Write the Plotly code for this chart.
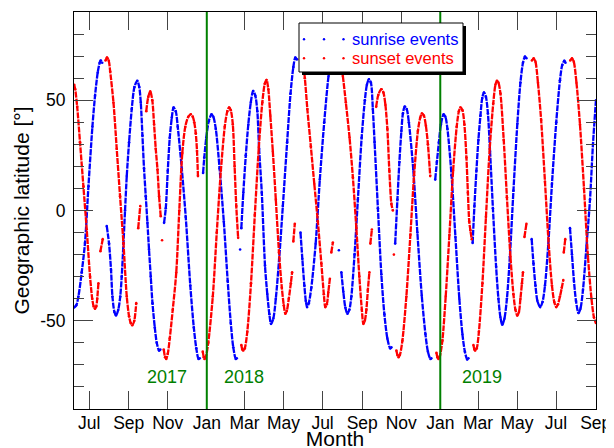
import pandas as pd
import plotly.graph_objects as go

# Time in days since 2017-06-01; None separates data gaps
EPOCH = "2017-06-01"

sunrise_day = [
    6.4, 9.9, 13.3, 18.5, 23.6, 29.0, 35.2, 39.3, 43.5, 46.6, 48.2, 50.5, None,
    57.6, 61.2, 64.3, 66.5, 69.6, 72.1, 75.6, 78.7, 81.0, 83.7, 86.2, 88.9, 92.5, 96.7, 100.9, 105.3,
    108.4, 110.8, 113.4, 115.9, 118.6, 121.2, 123.7, 126.4, 129.1, 132.7, 135.8, 139.4, 141.3, None,
    147.2, 149.9, 153.0, 156.1, 159.3, 162.1, 165.5, 168.6, 174.9, 181.1, 188.2, 193.7, 197.6, 201.2, 203.0, None,
    208.2, 210.1, 213.2, 217.1, 221.3, 224.2, 228.1, 234.0, 240.6, 246.7, 251.5, 255.4, 259.4, 260.9, None,
    266.1, None,
    268.0, 271.1, 275.0, 278.9, 282.8, 286.4, 289.9, 293.0, 295.8, 300.0, 305.0, 308.6, 311.8, 314.4,
    318.0, 321.9, 327.1, 332.9, 339.6, 344.9, 349.3, 352.4, 354.8, None,
    360.5, 363.4, 366.5, 368.8, 370.7, 373.5, 377.4, 384.2, 390.7, 397.6, 404.4, 407.9, 411.1, 413.4, None,
    420.5, None,
    424.4, 427.5, 430.6, 433.8, 436.9, 440.0, 445.0, 450.2, 456.1, 461.1, 464.3, 467.4, 470.5, 473.6,
    476.3, 481.5, 486.9, 491.6, 496.3, 500.7, 502.6, None,
    508.5, 512.0, 515.1, 518.2, 520.6, 523.4, 526.5, 529.9, 536.8, 543.2, 550.1, 555.8, 559.7, 563.6, 565.1, None,
    571.1, 573.7, 576.9, 580.0, 584.2, 587.0, 590.2, 596.6, 602.7, 608.8, 613.6, 617.5, 621.1, 623.0, None,
    629.6, 632.4, 635.5, 638.6, 641.8, 644.6, 647.3, 650.4, 653.5, 656.8, 661.3, 666.3, 669.9, 673.1,
    675.9, 679.3, 683.2, 687.8, 693.4, 699.5, 704.3, 708.3, 711.4, 713.7, None,
    721.9, 724.7, 727.8, 730.9, 735.2, 738.8, 742.7, 747.7, 753.6, 760.3, 766.1, 769.7, 772.9, 774.7, None,
    781.8, 784.9, 788.0, 791.2, 795.1, 798.2, 802.1, 807.6, 813.1, 817.7, 822.4,
]
sunrise_lat = [
    -44, -43, -39, -28, -14.7, 11, 38, 52, 62.6, 67, 68, 67, None,
    -7, -15, -27, -39, -46, -47.6, -45, -39, -30, -15, 0, 15.6, 31, 46, 56, 58.8,
    56, 49, 34, 19, 6.5, -5.6, -17.7, -30, -42, -53, -60, -63.5, -63, None,
    -5.6, 1, 18, 33, 42, 46.7, 45, 38, 19, -3, -34, -53, -62.5, -67.3, -67, None,
    17, 24, 33, 40.5, 43.6, 42.5, 37, 19, -5, -32, -51, -62, -67.3, -67, None,
    -17.7, None,
    -8, 8, 25, 39, 49, 54.2, 52, 45, 28, 8, -25, -38, -47, -51.4,
    -49, -40, -22, 2, 31, 53, 65, 69.4, 68.5, None,
    -10, -22, -34, -41, -43.8, -42, -35, -15, 14, 40, 61, 66.5, 68, 67.5, None,
    -18, None,
    -28, -37, -44, -46.8, -45, -39, -20, 5, 33, 50, 57, 59.5, 58, 46,
    31, 1, -29, -47, -58, -62.5, -62, None,
    -15, 5, 22, 36, 44, 47.1, 46, 40, 18.5, -10, -38.7, -56, -64, -67.3, -67, None,
    14, 22, 31, 39, 43.6, 42.5, 37, 16, -12, -40, -56, -64, -67.5, -67, None,
    -14.7, 2, 18, 32, 43, 51, 53.5, 51.5, 44, 27, 1, -25.5, -40, -48.5,
    -51.8, -49, -40, -21, 9, 39.4, 58, 67, 69.8, 69, None,
    -13, -24, -34, -41, -43.8, -41.5, -34, -16, 12, 40, 59, 66, 67.9, 67, None,
    -8, -20, -32, -41, -46.5, -44.5, -36, -16, 5, 30, 50,
]

sunset_day = [
    6.7, 8.3, 11.4, 15.8, 21.1, 26.3, 31.5, 34.9, 37.2, 39.3, 41.2, 42.7, 44.6, None,
    47.7, 51.3, None,
    55.7, 58.0, 60.7, 63.0, 68.1, 73.2, 78.4, 83.7, 88.9, 92.5, 95.1, 97.5, 100.6, 103.7, None,
    106.8, 110.0, None,
    119.4, 122.5, 125.6, 128.8, 131.6, 134.2, 136.9, 139.4, 142.0, None,
    144.1, None,
    146.7, 148.8, 150.6, 153.0, 156.1, 160.8, 166.3, 171.0, 175.7, 180.4, 185.1, 189.0, 192.1, 194.4,
    196.8, 198.7, 200.2, None,
    207.7, 209.3, 210.5, 212.4, 216.3, 223.4, 229.6, 236.0, 242.1, 246.1, 248.9, 251.5, 254.7, 257.5,
    260.1, 263.0, None,
    268.0, 269.5, 271.1, 273.4, 277.3, 283.1, 289.1, 295.3, 300.8, 304.7, 307.4, 310.2, 313.3, 317.2,
    321.9, 326.9, 331.3, 334.4, 336.8, 339.1, 342.2, 345.4, 347.4, None,
    349.3, 351.6, None,
    359.5, 361.8, 364.1, 367.3, 371.2, 376.7, 382.1, 387.6, 393.1, 397.0, 399.3, 401.7, 404.0, 406.4, None,
    408.7, 411.1, None,
    418.9, 421.2, 423.6, 426.7, 431.4, 437.2, 442.4, 447.8, 452.5, 456.4, 458.8, 461.1, 463.5, 465.8,
    468.2, None,
    469.7, 472.1, None,
    478.8, 482.2, 486.9, 490.1, 493.2, 496.3, 499.4, 502.6, 504.9, None,
    506.5, None,
    510.4, 512.0, 513.8, 515.9, 519.8, 526.0, 532.3, 538.1, 544.0, 547.6, 550.3, 553.4, 556.5, 559.7,
    563.3, None,
    573.0, 574.5, 576.1, 578.4, 582.3, 587.5, 593.3, 599.1, 604.7, 608.1, 610.5, 613.6, 616.7, 619.9,
    622.2, 624.3, 626.1, 628.2, None,
    630.8, 632.4, 633.6, 636.0, 639.4, 644.9, 650.4, 656.3, 661.8, 665.2, 667.6, 669.9, 673.1, 678.2,
    683.2, 688.7, 693.4, 696.5, 699.3, 702.0, 704.3, 706.7, 708.3, None,
    710.6, 713.7, None,
    722.3, 725.0, 727.8, 731.7, 736.7, 742.7, 748.6, 753.6, 757.2, 760.3, 763.0, 766.1, 769.0, 771.3, None,
    772.1, 774.4, None,
    782.2, 784.9, 787.7, 791.9, 797.4, 803.7, 809.9, 815.4, 819.3, 822.4,
]
sunset_lat = [
    57, 55, 47, 31, 11, -8.6, -30, -40, -43.5, -44.5, -43.5, -40, -33, None,
    -18.5, -13, None,
    68, 69.4, 68, 63, 49, 28, 6.5, -14.7, -39, -48, -51, -52, -50, -42, None,
    -8, 2, None,
    45, 51.5, 54, 50, 39, 28, 18.6, 6.5, -2.6, None,
    -13.5, None,
    -63, -66.5, -67.3, -65, -58, -45, -28, 0, 26, 38, 42.5, 43.6, 42.5, 40,
    35, 27, 15.6, None,
    -64, -66.5, -67.3, -66.5, -60, -39, -10, 18, 38, 45, 46.7, 45.5, 39, 20,
    2, -12.4, None,
    -61, -63, -63.5, -62.5, -55, -33, -2, 28.5, 49, 57.5, 59.2, 55, 43, 27,
    5, -19, -35, -43, -46.8, -45.5, -40, -33, -28, None,
    -14, -6, None,
    68.5, 70, 68, 60, 46, 29, 12, -5, -24, -38, -43.8, -42.5, -37, -31, None,
    -19, -14.5, None,
    68, 69, 67.5, 61, 49, 33, 15, -8, -30, -45, -51.4, -50, -45, -36,
    -28, None,
    -15, -8.6, None,
    47, 52.5, 55, 53.5, 48, 37, 18, 3, 0, None,
    -20, None,
    -63.5, -65.5, -66.5, -65.5, -59, -39, -11, 16, 36, 42, 44, 43, 38.5, 30,
    15.6, None,
    -64.5, -66.5, -67.3, -66, -59, -39, -11, 18, 38, 45, 46.7, 45.5, 39, 24,
    8, -5, -9, -13, None,
    -61, -63, -63.5, -62.5, -55, -33, -3, 28, 48.5, 57, 58.8, 58, 53, 32,
    6, -21, -38, -45, -47.6, -46, -40, -33, -28, None,
    -12, -6, None,
    68, 69, 67.5, 58, 41, 13, -15.6, -34, -41.5, -43.8, -42.5, -39, -35, -31.5, None,
    -19, -13, None,
    68, 69, 67.5, 58, 39, 10, -21, -40, -48.5, -51,
]

series_names = ["sunrise events", "sunset events"]
month_ticks = ["2017-07-01", "2017-09-01", "2017-11-01", "2018-01-01", "2018-03-01", "2018-05-01",
               "2018-07-01", "2018-09-01", "2018-11-01", "2019-01-01", "2019-03-01", "2019-05-01",
               "2019-07-01", "2019-09-01"]
month_labels = ["Jul", "Sep", "Nov", "Jan", "Mar", "May", "Jul", "Sep", "Nov", "Jan", "Mar", "May", "Jul", "Sep"]
lat_ticks = [-50, 0, 50]
lat_labels = ["-50", "0", "50"]
year_boundaries = ["2018-01-01", "2019-01-01"]
year_labels = ["2017", "2018", "2019"]
year_label_dates = ["2017-10-31", "2018-02-27 14:00", "2019-03-07 22:00"]
year_label_lat = -75.5
x_range = ["2017-06-07 10:00", "2019-09-01 11:00"]

epoch = pd.Timestamp(EPOCH)


def to_dates(days):
    return [None if d is None else epoch + pd.Timedelta(days=d) for d in days]


BLUE = "#0000ff"
RED = "#ff0000"
GREEN = "#008000"
FONT = "Liberation Sans, Arial, Helvetica, sans-serif"

# figure geometry (page body adds an 8 px offset)
W, H = 606, 442
ML, MR, MT, MB = 66, 18, 4, 41
PW, PH = W - ML - MR, H - MT - MB


def px(xp):
    return (xp - ML) / PW


def py(yp):
    return 1 - (yp - MT) / PH


fig = go.Figure()
for days, lats, col, nm in [(sunrise_day, sunrise_lat, BLUE, series_names[0]),
                            (sunset_day, sunset_lat, RED, series_names[1])]:
    fig.add_trace(go.Scatter(
        x=to_dates(days), y=lats, mode="lines+markers", name=nm,
        line=dict(color=col, width=2.3, shape="spline", smoothing=0.8, dash="6px,1px"),
        marker=dict(color=col, size=2.6),
        connectgaps=False, showlegend=False, hoverinfo="skip",
    ))

shapes = []
for d in year_boundaries:
    shapes.append(dict(type="line", xref="x", yref="paper", x0=d, x1=d, y0=0, y1=1,
                       line=dict(color=GREEN, width=2), layer="above"))

# legend box with drop shadow
LX0, LX1, LY0, LY1 = 291, 455, 15, 64
shapes.append(dict(type="rect", xref="paper", yref="paper",
                   x0=px(LX0 + 3), x1=px(LX1 + 3), y0=py(LY1 + 3), y1=py(LY0 + 3),
                   fillcolor="black", line=dict(width=0), layer="above"))
shapes.append(dict(type="rect", xref="paper", yref="paper",
                   x0=px(LX0), x1=px(LX1), y0=py(LY1), y1=py(LY0),
                   fillcolor="white", line=dict(color="black", width=1), layer="above"))

annotations = [dict(x=d, y=year_label_lat, xref="x", yref="y", text=t, showarrow=False,
                    font=dict(color=GREEN, size=18, family=FONT), xanchor="center", yanchor="middle")
               for d, t in zip(year_label_dates, year_labels)]

for row_y, name, col in [(31.3, series_names[0], BLUE), (50.3, series_names[1], RED)]:
    for dx in (296, 316, 335.5):
        shapes.append(dict(type="circle", xref="paper", yref="paper", xsizemode="pixel",
                           ysizemode="pixel", xanchor=px(dx), yanchor=py(row_y),
                           x0=-1.2, x1=1.2, y0=-1.2, y1=1.2,
                           fillcolor=col, line=dict(width=0), layer="above"))
    annotations.append(dict(x=px(342), y=py(row_y), xref="paper", yref="paper", text=name,
                            showarrow=False, xanchor="left", yanchor="middle",
                            font=dict(color=col, size=16.5, family=FONT)))

fig.update_layout(
    width=W, height=H,
    margin=dict(l=ML, r=MR, t=MT, b=MB),
    plot_bgcolor="white", paper_bgcolor="white",
    font=dict(family=FONT, size=17.5, color="black"),
    shapes=shapes, annotations=annotations, showlegend=False,
    xaxis=dict(type="date", range=x_range, tickvals=month_ticks, ticktext=month_labels,
               ticks="inside", ticklen=18, tickwidth=1, tickcolor="#444",
               showline=True, linecolor="black", linewidth=1, mirror="ticks",
               showgrid=False, zeroline=False, automargin=False, ticklabelstandoff=-2,
               title=dict(text="Month", standoff=5)),
    yaxis=dict(range=[-90, 90], tickvals=lat_ticks, ticktext=lat_labels,
               ticks="inside", ticklen=19, tickwidth=1, tickcolor="#444",
               minor=dict(dtick=10, tick0=0, ticks="inside", ticklen=10, tickcolor="#444"),
               showline=True, linecolor="black", linewidth=1, mirror="ticks",
               showgrid=False, zeroline=False, automargin=False, ticklabelstandoff=4,
               title=dict(text="Geographic latitude [°]", standoff=4)),
)

fig.write_html("out.html")
